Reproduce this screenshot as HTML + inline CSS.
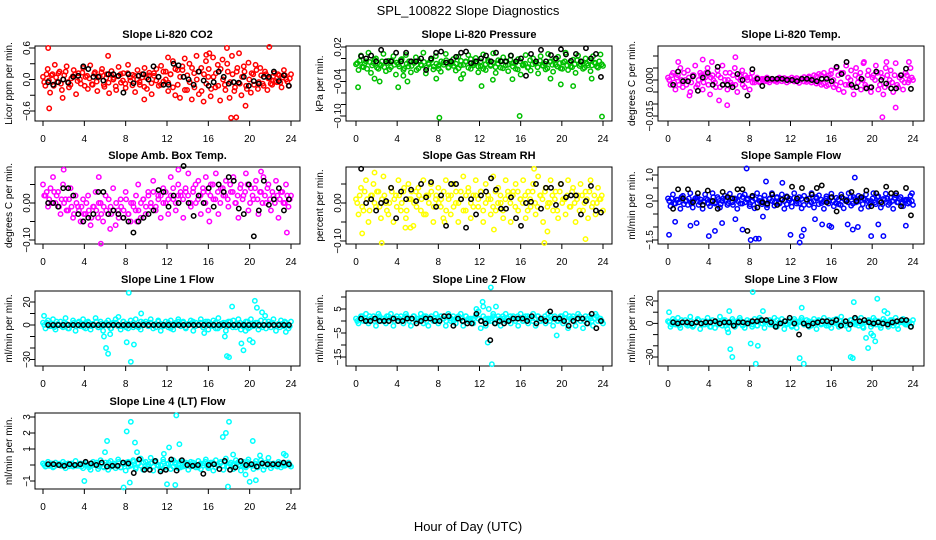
<!DOCTYPE html>
<html><head><meta charset="utf-8"><style>
html,body{margin:0;padding:0;background:#fff;}
svg{display:block;font-family:"Liberation Sans",Arial,sans-serif;}
</style></head><body>
<svg id="chart" width="936" height="540" viewBox="0 0 936 540" xmlns="http://www.w3.org/2000/svg">
<text x="468" y="15" text-anchor="middle" font-size="13">SPL_100822  Slope Diagnostics</text>
<text x="468" y="531" text-anchor="middle" font-size="13">Hour of Day (UTC)</text>
<g id="panels"></g>
</svg>
<script>
const hourTicks = [0,4,8,12,16,20,24];

const co2Main = [0.05,-0.12,0.2,-0.25,0.1,0.28,-0.05,0.15,-0.2,0.08,0.25,-0.15,0.02,0.18,-0.28,0.12,-0.08,0.22,0.05,-0.18,0.27,-0.1,0.14,-0.22,0.06,0.2,-0.14,0.1,-0.26,0.16,0.03,-0.2,0.24,-0.06,0.12,-0.16,0.28,-0.02,0.09,-0.24,0.18,-0.1,0.04,0.22,-0.18,0.13,-0.28,0.07,0.2,-0.12,0.26,-0.04,0.15,-0.22,0.1,0.35,-0.3,0.18,-0.35,0.25,0.4,-0.2,0.3,-0.38,0.12,0.45,-0.28,0.22,-0.42,0.35,0.05,-0.32,0.42,-0.15,0.28,-0.4,0.38,-0.1,0.3,-0.35,0.45,-0.22,0.15,0.5,-0.3,0.25,-0.12,0.32,-0.25,0.1,0.28,-0.18,0.22,-0.08,0.15,-0.2,0.02,-0.1,0.12,-0.05,0.08,-0.15,0.18,0.0,-0.12,0.1];
const co2MainB = [-0.05,0.1,-0.02,0.08,-0.12,0.04,0.12,-0.08,0.0,0.15,-0.05,-0.1,0.06,0.1,-0.03,0.0,0.13,-0.12,0.07,0.02,-0.09,0.11,-0.04,0.05,0.14,-0.1,0.03,-0.06,0.09,0.0,-0.13,0.06,0.1,-0.02,-0.08,0.12,0.04,-0.11,0.07,0.0,-0.05,0.1,-0.14,0.03,0.08,-0.07,0.12,-0.02,0.05,-0.1,0.15,0.0,-0.06,0.1,-0.15,0.2,-0.1,0.05,0.18,-0.2,0.08,-0.05,0.22,-0.15,0.0,0.15,-0.22,0.1,-0.08,0.2,-0.18,0.05,0.12,-0.12,0.2,0.0,-0.2,0.15,-0.05,0.1,-0.15,0.22,-0.08,0.05,0.15,-0.18,0.0,0.12,-0.1,0.18,-0.05,0.08,-0.12,0.1,0.02,-0.08,0.06,-0.03,0.1,-0.06,0.04,0.08,-0.04,0.02];
const co2Black = [-0.05,-0.1,-0.05,0.0,-0.06,0.05,0.07,0.25,0.2,0.05,0.05,-0.02,0.1,0.1,0.07,-0.25,0.1,-0.07,0.07,0.1,0.0,0.25,0.05,-0.1,-0.1,0.3,0.27,0.05,0.0,-0.1,0.15,-0.02,-0.12,-0.05,0.15,0.05,-0.08,-0.05,-0.06,0.05,-0.12,-0.03,-0.08,0.05,0.05,0.15,-0.03,0.08,-0.12];
const co2OutX = [0.5,0.6,6.3,12.1,15.8,16.1,17.8,18.2,18.7,19.6,21.9,9.8,1.9];
const co2OutY = [0.6,-0.55,0.45,0.42,0.47,0.5,0.6,-0.73,-0.72,-0.5,0.62,-0.38,-0.35];

const presMain = [-0.01,-0.02,0.005,-0.015,-0.005,0.01,-0.025,-0.008,0.0,-0.018,-0.012,0.008,-0.022,-0.004,-0.015,0.004,-0.028,-0.01,-0.002,-0.02,0.006,-0.014,-0.024,-0.006,0.002,-0.017,-0.011,0.01,-0.026,-0.008,-0.003,-0.019,0.004,-0.013,-0.023,-0.007,0.008,-0.016,-0.01,-0.001,-0.021,0.003,-0.012,-0.027,-0.005,0.006,-0.018,-0.009,0.001,-0.024,-0.014,0.007,-0.02,-0.006,-0.011,0.009,-0.025,-0.003,-0.016,0.002,-0.012,-0.022,0.005,-0.008,-0.018,-0.001,-0.028,-0.01,0.006,-0.015,-0.021,0.0,-0.009,-0.026,0.004,-0.013,-0.019,0.008,-0.005,-0.023,-0.011,0.003,-0.017,-0.007,0.01,-0.02,-0.014,-0.002,-0.025,0.005,-0.01,-0.018,0.0,-0.012,-0.022,0.004,-0.008,-0.016,0.007,-0.013];
const presMainB = [-0.008,-0.004,-0.014,-0.009,-0.018,-0.006,-0.012,-0.002,-0.016,-0.01,-0.005,-0.015,-0.008,-0.019,-0.003,-0.011,-0.007,-0.014,-0.001,-0.017,-0.009,-0.005,-0.013,-0.008,-0.02,-0.004,-0.012,-0.006,-0.016,-0.01,-0.002,-0.014,-0.009,-0.018,-0.005,-0.011,-0.003,-0.015,-0.007,-0.013,-0.009,-0.017,-0.004,-0.011,-0.006,-0.016,-0.001,-0.012,-0.008,-0.014,-0.005,-0.018,-0.01,-0.003,-0.013,-0.007,-0.015,-0.009,-0.004,-0.017,-0.006,-0.011,-0.002,-0.014,-0.008,-0.019,-0.005,-0.012,-0.009,-0.016,-0.003,-0.01,-0.007,-0.015,-0.004,-0.012,-0.009,-0.017,-0.006,-0.011,-0.002,-0.014,-0.008,-0.018,-0.005,-0.012,-0.007,-0.015,-0.01,-0.003,-0.013,-0.006,-0.016,-0.009,-0.004,-0.012,-0.007,-0.014,-0.005,-0.01];
const presBlack = [0.004,0.0,0.005,-0.005,0.015,-0.005,-0.005,0.01,-0.005,0.01,-0.005,-0.005,0.0,-0.02,0.0,0.01,0.012,-0.007,-0.005,0.003,0.01,0.012,-0.008,-0.005,0.0,0.005,-0.005,0.01,-0.005,-0.005,0.005,-0.005,0.0,-0.03,0.008,-0.005,0.015,-0.005,0.006,0.0,0.016,0.007,-0.004,0.008,-0.005,0.018,0.0,0.008,-0.032];
const presOutX = [0.2,4.1,8.1,12.2,15.9,19.9,21.1,23.9,1.8,2.3,5.0,4.6,7.8,10.2,13.3,15.2,18.9,22.9];
const presOutY = [-0.05,-0.05,-0.103,-0.048,-0.1,-0.045,-0.048,-0.101,-0.035,-0.04,-0.04,-0.03,-0.035,-0.035,-0.037,-0.036,-0.035,-0.035];

const tempMain = [0.001,-0.002,0.003,-0.004,0.002,0.005,-0.003,0.0,0.004,-0.005,0.002,0.006,-0.002,0.003,-0.004,0.001,0.005,-0.006,0.002,-0.001,0.004,-0.003,0.006,0.0,-0.004,0.003,-0.002,0.005,-0.005,0.002,0.004,-0.003,0.001,-0.004,0.003,-0.001,0.001,-0.001,0.0005,-0.0005,0.001,-0.001,0.0005,0.0,-0.0008,0.001,-0.0005,0.0008,-0.001,0.0004,0.001,-0.0006,0.0008,-0.0012,0.0006,0.0012,-0.0008,0.0015,-0.001,0.002,-0.0015,0.0025,-0.002,0.003,-0.0025,0.002,0.004,-0.003,0.005,-0.004,0.003,-0.005,0.006,-0.002,0.004,-0.006,0.005,0.001,-0.004,0.007,-0.003,0.004,-0.005,0.002,0.006,-0.004,0.003,-0.006,0.005,-0.002,0.004,-0.005,0.007,-0.003,0.002,-0.004,0.003,-0.001,0.005,0.0];
const tempMainB = [0.0,0.002,-0.001,0.001,-0.002,0.0,0.003,-0.002,0.001,-0.001,0.002,-0.003,0.0,0.002,-0.001,0.003,-0.002,0.001,0.0,-0.003,0.002,0.001,-0.002,0.003,0.0,-0.001,0.002,-0.002,0.001,0.0,-0.002,0.002,0.0,0.001,-0.001,0.0,0.0005,-0.0005,0.0,0.0005,-0.0005,0.0,0.0004,-0.0004,0.0,0.0005,-0.0005,0.0,0.0004,-0.0004,0.0,0.0005,-0.0005,0.0,0.0006,-0.0006,0.0,0.001,-0.001,0.0,0.0015,-0.001,0.002,-0.0015,0.001,-0.002,0.0025,0.0,-0.002,0.002,-0.001,0.003,-0.002,0.001,0.0,-0.003,0.002,-0.001,0.003,0.0,-0.002,0.002,-0.003,0.001,0.0,0.003,-0.002,0.001,-0.003,0.002,0.0,-0.001,0.002,-0.002,0.001,0.0,-0.001,0.002,0.0,0.001];
const tempBlack = [-0.002,0.0035,-0.0005,-0.0005,0.0015,-0.0045,0.001,0.003,-0.002,0.0055,-0.002,-0.002,-0.003,0.0025,0.0,-0.0065,0.0045,0.0005,-0.0025,0.0005,0.0005,0.0005,0.0005,0.0,0.0,-0.0005,0.0005,0.0005,0.0,-0.0005,0.0005,0.0005,-0.0005,0.0055,0.0025,0.0075,-0.002,-0.003,0.0005,-0.0035,-0.003,0.0035,0.0,-0.0015,-0.0035,-0.0035,0.002,0.0047,-0.0037];
const tempOutX = [3.4,1.0,5.0,6.6,5.8,2.1,19.2,21.0,21.4,22.3,23.6,4.3];
const tempOutY = [0.0085,0.0075,-0.0085,0.0095,-0.0105,-0.0065,0.0075,-0.0155,0.0075,-0.0115,0.0075,0.0075];

const ambMain = [0.05,0.02,-0.01,0.04,0.07,0.0,0.03,-0.03,0.05,0.01,-0.02,0.04,-0.04,0.02,-0.01,-0.05,0.01,-0.03,0.02,-0.06,-0.01,0.03,-0.04,0.0,-0.05,0.02,-0.03,-0.01,0.04,-0.06,-0.02,0.01,-0.04,0.03,-0.03,-0.05,0.0,-0.02,0.05,-0.04,0.01,-0.03,0.03,-0.01,0.06,-0.02,0.02,-0.04,0.04,0.0,-0.03,0.07,0.01,-0.02,0.05,0.02,-0.04,0.03,0.08,-0.01,0.04,0.0,0.06,-0.03,0.03,0.07,-0.02,0.05,0.01,0.08,-0.03,0.04,0.02,0.06,-0.01,0.03,0.07,0.0,-0.04,0.05,0.02,0.08,-0.02,0.04,0.01,0.06,-0.03,0.03,0.07,0.0,0.05,-0.02,0.02,0.06,-0.04,0.03,0.0,0.05,-0.01,0.02];
const ambMainB = [0.02,0.03,0.01,0.0,0.03,0.02,-0.01,0.01,0.0,-0.02,0.01,-0.01,-0.03,0.0,-0.02,-0.01,-0.03,0.0,-0.02,-0.04,-0.01,-0.02,0.0,-0.03,-0.01,-0.02,0.01,-0.03,-0.02,0.0,-0.04,-0.01,-0.02,0.01,-0.03,0.0,-0.01,0.02,-0.02,0.0,0.01,-0.01,0.02,0.0,0.03,-0.01,0.01,0.02,0.0,0.03,0.01,0.02,0.04,0.0,0.02,0.03,0.01,0.04,0.02,0.0,0.03,0.05,0.01,0.02,0.04,0.0,0.03,0.02,0.05,0.01,0.03,0.0,0.04,0.02,0.01,0.05,0.03,0.0,0.02,0.04,0.01,0.03,0.05,0.0,0.02,0.04,0.01,0.03,0.0,0.02,0.04,0.01,0.03,0.0,0.02,0.01,0.03,0.0,0.02,0.01];
const ambBlack = [0.0,0.0,-0.01,0.04,0.04,0.02,-0.03,-0.05,-0.04,-0.03,0.03,0.03,-0.03,-0.02,-0.03,-0.04,-0.05,-0.08,-0.05,-0.04,-0.03,-0.02,0.035,0.03,-0.01,0.02,0.0,0.1,0.0,-0.035,0.02,0.0,0.04,-0.01,0.05,0.03,0.07,0.06,-0.015,-0.03,0.05,-0.09,-0.02,0.06,-0.005,0.01,0.04,-0.02,0.01];
const ambOutX = [2.0,5.6,6.5,13.1,23.6,5.4,3.9,9.1,16.1,21.1];
const ambOutY = [0.09,-0.11,-0.07,0.09,-0.08,0.07,-0.05,-0.05,-0.05,0.085];

const rhMain = [0.01,-0.03,0.04,-0.02,0.06,-0.05,0.02,0.05,-0.01,0.03,-0.04,0.07,0.0,-0.03,0.04,-0.05,0.02,0.06,-0.02,0.03,-0.04,0.05,0.01,-0.06,0.03,0.04,-0.02,0.06,-0.03,0.02,0.05,-0.05,0.01,0.04,-0.01,-0.04,0.06,0.02,-0.03,0.05,0.0,-0.05,0.03,0.07,-0.02,0.04,-0.04,0.02,0.06,-0.01,0.03,-0.05,0.05,0.01,-0.03,0.07,-0.02,0.04,0.0,-0.04,0.06,0.02,-0.05,0.03,0.05,-0.02,0.01,0.06,-0.04,0.03,-0.01,0.05,-0.03,0.07,0.02,-0.05,0.04,0.0,0.06,-0.02,0.03,-0.04,0.05,0.01,-0.03,0.06,-0.01,0.04,-0.05,0.02,0.05,-0.02,0.03,-0.04,0.06,0.0,-0.03,0.04,0.01,-0.02];
const rhMainB = [0.0,0.02,-0.01,0.03,0.01,-0.02,0.02,0.0,0.03,-0.01,0.01,0.02,-0.02,0.0,0.03,0.01,-0.01,0.02,0.0,0.04,-0.02,0.01,0.03,0.0,-0.01,0.02,0.01,-0.03,0.02,0.0,0.03,-0.01,0.02,0.0,0.01,0.03,-0.02,0.01,0.02,-0.01,0.03,0.0,0.01,-0.02,0.02,0.03,0.0,-0.01,0.02,0.01,0.03,-0.02,0.0,0.02,0.01,-0.01,0.03,0.0,0.02,-0.02,0.01,0.03,0.0,0.02,-0.01,0.03,0.01,0.0,0.02,-0.02,0.01,0.03,0.0,-0.01,0.02,0.01,0.03,-0.01,0.0,0.02,0.01,-0.02,0.03,0.0,0.01,0.02,-0.01,0.03,0.0,0.01,-0.02,0.02,0.0,0.01,0.03,-0.01,0.02,0.0,0.01,0.02];
const rhBlack = [0.09,0.0,0.01,-0.02,0.0,0.005,0.04,-0.04,0.03,0.01,0.035,0.005,0.05,0.015,0.055,-0.01,0.02,-0.06,0.05,0.05,0.01,-0.065,0.01,-0.03,0.02,0.03,0.065,0.035,-0.015,-0.015,0.015,-0.04,-0.06,0.0,0.003,0.05,-0.015,0.04,0.04,-0.005,0.05,0.015,0.02,0.02,-0.03,0.005,0.045,-0.02,-0.025];
const rhOutX = [0.6,2.5,18.3,22.3,1.8,17.3,8.6,13.4,18.6,4.8,5.3];
const rhOutY = [-0.08,-0.105,-0.105,-0.095,0.08,0.09,-0.05,-0.07,-0.075,-0.065,-0.065];

const sampMain = [0.1,-0.2,0.25,-0.1,0.05,-0.3,0.2,0.0,-0.15,0.3,-0.25,0.1,0.15,-0.05,-0.3,0.25,0.05,-0.2,0.3,-0.1,0.15,-0.25,0.0,0.2,-0.15,0.28,-0.05,0.1,-0.3,0.2,-0.1,0.25,0.05,-0.2,0.15,-0.28,0.3,0.0,-0.12,0.22,-0.25,0.08,0.3,-0.18,0.12,-0.05,0.25,-0.3,0.18,0.02,-0.22,0.3,-0.1,0.15,-0.28,0.2,0.05,-0.15,0.3,-0.25,0.1,0.22,-0.08,-0.3,0.18,0.0,0.28,-0.2,0.12,-0.12,0.25,-0.28,0.05,0.3,-0.18,0.15,-0.05,0.2,-0.3,0.1,0.25,-0.22,0.0,0.3,-0.12,0.18,-0.25,0.08,0.28,-0.15,0.12,-0.3,0.22,-0.05,0.15,-0.2,0.05,-0.1,0.2,-0.15];
const sampMainB = [0.0,0.1,-0.1,0.05,-0.05,0.15,-0.12,0.02,0.1,-0.08,0.0,0.12,-0.15,0.05,-0.02,0.1,-0.1,0.0,0.15,-0.05,0.08,-0.12,0.1,0.0,-0.08,0.12,-0.15,0.05,0.0,-0.1,0.15,-0.05,0.1,-0.12,0.0,0.08,-0.08,0.12,-0.02,0.05,-0.15,0.1,0.0,-0.05,0.15,-0.1,0.05,0.0,-0.12,0.1,-0.05,0.12,0.0,-0.1,0.08,-0.15,0.05,0.1,-0.05,0.0,0.15,-0.12,0.05,-0.02,0.1,-0.1,0.12,0.0,-0.08,0.05,-0.15,0.1,0.0,-0.05,0.15,-0.1,0.08,-0.02,0.12,-0.12,0.05,0.0,-0.1,0.1,-0.05,0.15,0.0,-0.12,0.05,0.1,-0.08,0.0,0.12,-0.05,0.08,-0.1,0.02,0.05,-0.05,0.0];
const sampBlack = [-0.3,0.45,0.1,0.45,-0.05,0.3,-0.15,0.4,0.0,-0.3,0.35,0.15,0.1,0.45,0.45,-1.15,0.2,-0.25,-0.05,-0.1,0.25,-0.15,0.05,0.15,0.55,0.1,0.5,0.05,0.25,0.5,0.6,-0.05,0.15,-0.4,0.15,0.0,0.35,0.0,0.15,0.4,-0.2,0.3,-0.05,0.55,0.3,0.3,-0.2,0.5,-0.55];
const sampOutX = [0.1,0.7,2.2,2.8,4.0,4.6,5.3,7.7,8.1,8.6,8.9,9.6,12.0,12.9,13.1,13.3,11.2,15.1,15.8,17.6,18.3,18.1,19.9,20.6,21.1,23.3,23.9,6.6,7.3,9.3,14.4,18.6,16.0];
const sampOutY = [-1.3,-0.8,-0.95,-0.85,-1.35,-1.15,-0.85,1.25,-1.5,-1.45,-1.45,0.75,-1.3,-1.6,-1.35,-1.1,0.7,-0.9,-0.95,-0.9,0.9,-1.1,-1.35,-0.9,-1.35,-0.95,0.3,-0.7,-1.1,-0.6,-0.7,-1.0,-1.0];

const l1Main = [2,-3,4,-1,5,-4,1,3,-2,6,-3,0,4,-5,2,-1,5,-3,3,-4,1,6,-2,3,-5,0,4,-3,2,5,-1,-4,3,1,-3,4,-2,5,0,-4,2,3,-1,5,-3,1,4,-5,0,3,-2,4,-4,2,5,-1,3,-3,1,4,-5,2,0,5,-2,3,-4,1,4,-3,6,-1,2,-5,3,0,4,-2,5,-4,1,3,-3,5,-1,2,-4,4,0,-3,3,-2,5,-5,1,4,-1,2,-3,3];
const l1MainB = [0,2,-1,1,-2,3,0,-1,2,1,-3,0,2,-1,3,0,-2,1,2,-1,0,3,-2,1,0,2,-1,-3,1,2,0,-1,3,-2,1,0,2,-1,-2,3,0,1,-1,2,0,-2,3,1,-1,0,2,-3,1,0,3,-1,2,-2,0,1,3,-1,0,2,-2,1,3,0,-1,2,-3,1,0,2,-1,3,-2,0,1,2,-1,0,3,-2,1,0,2,-1,-2,3,0,1,2,-1,0,-2,1,3,0,-1];
const l1Black = [0,0,0,0,0,0,0,0,0,0,0,0,0,0,0,0,0,0,0,0,0,0,0,0,0,0,0,0,0,0,0,0,0,0,0,0,0,0,0,0,0,0,0,0,0,0,0,0,0];
const l1OutX = [0.1,5.9,6.1,6.3,6.5,8.1,8.3,8.5,8.8,9.5,7.3,17.6,17.8,18.0,18.3,19.2,19.4,19.6,20.0,20.3,20.5,20.7,21.2,21.5,15.6,23.5];
const l1OutY = [8,-10,-20,-25,-8,-15,28,-32,-17,10,7,-10,-27,-28,16,-16,-22,-5,-13,-15,21,15,11,8,-7,-6];

const l2Main = [1,-1,2,0,3,-1,1,2,-2,3,0,1,-1,2,3,-2,1,0,2,-1,3,1,-2,2,0,1,3,-1,2,-2,1,0,3,-1,2,1,-2,3,0,2,-1,1,3,-2,2,0,1,-1,2,4,-3,6,-2,1,0,3,-1,2,-2,1,3,0,-1,2,1,-2,3,0,2,-1,1,3,-2,2,0,1,-1,3,2,-2,1,0,2,-1,3,-3,1,2,-2,3,0,-3,2,-1,1,-2,3,0,1,-1];
const l2MainB = [0,1,2,1,0,2,1,0,1,2,1,0,2,1,1,0,2,1,0,1,2,0,1,2,1,0,1,2,0,1,2,1,0,1,2,1,0,2,1,0,1,2,1,0,2,1,0,1,2,1,0,2,1,0,1,2,1,0,1,2,0,1,2,1,0,2,1,0,1,2,1,0,1,2,0,1,2,1,0,1,2,0,1,2,1,0,2,1,0,1,2,1,0,1,2,0,1,2,1,0];
const l2Black = [1,0,0,1,0,0,0,1,0,0,1,1,-1,0,1,1,0,0,2,2,-2,1,0,-1,-1,3,0,-1,-8,-1,0,-1,0,1,1,1,0,2,-1,1,0,4,1,1,0,-2,0,1,1,-1,3,-3,0];
const l2OutX = [12.3,12.9,13.1,13.6,11.9,12.8,13.2,19.5,11.7];
const l2OutY = [8,5,14,6,4,-9,-18,-6,5];

const l3Main = [2,-3,4,-1,5,-4,1,3,-2,6,-3,0,4,-5,2,-1,5,-3,3,-4,1,6,-2,3,-5,0,4,-3,2,5,-1,-4,3,1,-3,4,-2,5,0,-4,2,3,-1,5,-3,1,4,-5,0,3,-2,4,-4,2,5,-1,3,-3,1,4,-5,2,0,5,-2,3,-4,1,4,-3,6,-1,2,-5,3,0,4,-2,5,-4,1,3,-3,5,-1,2,-4,4,0,-3,3,-2,5,-5,1,4,-1,2,-3,3];
const l3MainB = [1,-1,2,0,-2,3,1,-1,0,2,-2,1,3,0,-1,2,1,-3,0,2,-1,1,3,-2,0,1,2,-1,0,3,-2,1,0,2,-1,1,-2,3,0,1,2,-1,0,-2,3,1,0,2,-1,1,-3,2,0,1,3,-1,0,2,-2,1,0,3,-1,2,0,-2,1,3,0,-1,2,1,-2,0,3,1,-1,2,0,-3,1,2,0,-1,3,1,-2,0,2,1,-1,3,0,-2,1,2,0,-1,1,0];
const l3Black = [1,0,1,1,0,1,0,1,1,2,0,1,1,-2,1,1,0,2,2,3,3,1,-3,0,2,5,0,-10,0,-2,0,1,2,2,1,3,-2,2,-1,5,2,3,1,0,1,0,-1,1,2,3,3,-3];
const l3OutX = [0.1,5.9,6.1,6.3,8.1,8.3,8.6,8.8,9.3,12.9,13.1,13.3,17.9,18.1,18.2,19.4,19.6,19.9,20.3,20.5,21.2,21.5,20.1,6.0];
const l3OutY = [10,-8,-23,-30,-18,28,-36,-20,11,-31,14,-36,-30,-31,19,-13,-22,-9,-16,22,11,9,-11,11];

const l4Main = [0.1,-0.1,0.2,0.0,-0.15,0.15,0.05,-0.05,0.2,-0.2,0.1,0.0,-0.1,0.25,-0.05,0.1,-0.2,0.15,0.0,-0.3,0.2,0.05,-0.25,0.3,-0.1,0.15,-0.3,0.25,0.0,-0.2,0.35,-0.15,0.1,-0.35,0.2,-0.05,0.3,-0.25,0.1,0.4,-0.3,0.2,-0.1,0.45,-0.35,0.25,0.0,-0.3,0.35,-0.15,0.1,-0.25,0.3,0.05,-0.2,0.25,-0.1,0.15,-0.3,0.2,0.0,-0.15,0.25,-0.25,0.1,0.35,-0.2,0.15,-0.35,0.3,-0.05,0.2,-0.3,0.4,-0.1,0.15,-0.25,0.3,0.0,-0.35,0.2,-0.15,0.35,0.05,-0.25,0.25,-0.1,0.3,-0.3,0.15,0.45,-0.2,0.1,-0.05,0.2,-0.15,0.1,0.0,0.15,-0.1];
const l4MainB = [0.0,0.05,-0.05,0.1,-0.1,0.0,0.08,-0.05,0.05,0.0,-0.08,0.1,0.0,-0.05,0.05,-0.1,0.1,0.0,-0.15,0.1,0.0,0.15,-0.1,0.05,-0.15,0.0,0.15,-0.1,0.1,-0.05,0.2,-0.15,0.05,0.15,-0.1,0.0,0.2,-0.15,0.1,-0.05,0.15,-0.2,0.05,0.1,-0.1,0.15,-0.05,0.0,0.2,-0.15,0.05,0.1,-0.1,0.15,0.0,-0.15,0.2,-0.05,0.1,-0.1,0.15,0.0,-0.15,0.1,-0.05,0.2,-0.1,0.05,0.15,-0.15,0.0,0.1,-0.05,0.2,-0.1,0.05,0.0,-0.15,0.15,-0.05,0.1,-0.1,0.2,0.0,-0.05,0.1,-0.15,0.05,0.15,-0.1,0.0,0.1,-0.05,0.05,-0.1,0.1,0.0,-0.05,0.05,0.0];
const l4Black = [0.05,0.05,0.0,-0.05,0.05,0.0,0.05,0.2,0.1,0.0,0.15,-0.1,-0.05,-0.05,0.15,0.1,-0.5,0.35,-0.3,-0.3,0.25,-0.4,-0.3,0.35,-0.35,0.3,0.0,-0.05,0.0,-0.55,0.0,0.05,-0.25,0.25,-0.3,-0.15,0.25,0.0,0.05,-0.1,0.1,0.05,0.05,0.05,0.15,0.05];
const l4OutX = [4.0,6.0,6.2,7.8,8.1,8.4,8.5,8.9,9.1,12.0,12.2,12.8,12.9,13.2,11.7,17.4,17.7,18.0,17.9,18.4,20.0,20.3,20.6,21.0,19.6,23.3,23.5];
const l4OutY = [-1.0,0.8,1.5,-1.4,2.1,-1.1,2.7,1.4,0.8,-1.2,1.1,-1.25,3.1,1.3,0.7,1.75,2.0,2.7,-1.35,0.65,-1.05,1.5,-0.95,0.6,-0.6,0.7,0.6];

const panels = [
 {name:'co2',title:'Slope Li-820 CO2',ylab:'Licor ppm per min.',bx:[35,300],by:[46,121],hx:[43,291],ya:[0.6,48],yb:[-0.6,111],ticks:[0.6,0.3,0,-0.3,-0.6],labels:['0.6','','0.0','','-0.6'],color:'#ff0000',main:co2Main,mainB:co2MainB,black:co2Black,ox:co2OutX,oy:co2OutY},
 {name:'pressure',title:'Slope Li-820 Pressure',ylab:'kPa per min.',bx:[346,612],by:[46,121],hx:[356,603],ya:[0.02,47],yb:[-0.10,116],ticks:[0.02,0,-0.02,-0.04,-0.06,-0.08,-0.10],labels:['0.02','','','-0.04','','','-0.10'],color:'#00c000',main:presMain,mainB:presMainB,black:presBlack,ox:presOutX,oy:presOutY},
 {name:'temp',title:'Slope Li-820 Temp.',ylab:'degrees C per min.',bx:[658,924],by:[46,121],hx:[668,913],ya:[0,80],yb:[-0.015,116],ticks:[0.01,0.005,0,-0.005,-0.01,-0.015],labels:['','','0.000','','','-0.015'],color:'#ff00ff',main:tempMain,mainB:tempMainB,black:tempBlack,ox:tempOutX,oy:tempOutY},
 {name:'amb-box-temp',title:'Slope Amb. Box Temp.',ylab:'degrees C per min.',bx:[35,300],by:[167,244],hx:[43,291],ya:[0,203],yb:[-0.10,240],ticks:[0.05,0,-0.05,-0.10],labels:['','0.00','','-0.10'],color:'#ff00ff',main:ambMain,mainB:ambMainB,black:ambBlack,ox:ambOutX,oy:ambOutY},
 {name:'gas-rh',title:'Slope Gas Stream RH',ylab:'percent per min.',bx:[346,612],by:[167,244],hx:[356,603],ya:[0,203],yb:[-0.10,241],ticks:[0.05,0,-0.05,-0.10],labels:['','0.00','','-0.10'],color:'#ffff00',main:rhMain,mainB:rhMainB,black:rhBlack,ox:rhOutX,oy:rhOutY},
 {name:'sample-flow',title:'Slope Sample Flow',ylab:'ml/min per min.',bx:[658,924],by:[167,244],hx:[668,913],ya:[1.0,175],yb:[-1.5,240],ticks:[1.0,0.5,0,-0.5,-1.0,-1.5],labels:['1.0','','0.0','','','-1.5'],color:'#0000ff',main:sampMain,mainB:sampMainB,black:sampBlack,ox:sampOutX,oy:sampOutY},
 {name:'line1-flow',title:'Slope Line 1 Flow',ylab:'ml/min per min.',bx:[35,300],by:[291,366],hx:[43,291],ya:[20,302],yb:[-30,359.5],ticks:[20,10,0,-10,-20,-30],labels:['20','','0','','','-30'],color:'#00ffff',main:l1Main,mainB:l1MainB,black:l1Black,ox:l1OutX,oy:l1OutY},
 {name:'line2-flow',title:'Slope Line 2 Flow',ylab:'ml/min per min.',bx:[346,612],by:[291,366],hx:[356,603],ya:[5,309],yb:[-15,357],ticks:[10,5,0,-5,-10,-15],labels:['','5','','-5','','-15'],color:'#00ffff',main:l2Main,mainB:l2MainB,black:l2Black,ox:l2OutX,oy:l2OutY},
 {name:'line3-flow',title:'Slope Line 3 Flow',ylab:'ml/min per min.',bx:[658,924],by:[291,366],hx:[668,913],ya:[20,301],yb:[-30,357],ticks:[20,10,0,-10,-20,-30],labels:['20','','0','','','-30'],color:'#00ffff',main:l3Main,mainB:l3MainB,black:l3Black,ox:l3OutX,oy:l3OutY},
 {name:'line4-flow',title:'Slope Line 4 (LT) Flow',ylab:'ml/min per min.',bx:[35,300],by:[413,489],hx:[43,291],ya:[3,417],yb:[-1,481],ticks:[3,2,1,0,-1],labels:['3','2','1','','-1'],color:'#00ffff',main:l4Main,mainB:l4MainB,black:l4Black,ox:l4OutX,oy:l4OutY}
];

const NS='http://www.w3.org/2000/svg';
const root=document.getElementById('panels');
function mk(tag,attrs,parent){const e=document.createElementNS(NS,tag);for(const k in attrs)e.setAttribute(k,attrs[k]);parent.appendChild(e);return e;}
const R0=2.2;

panels.forEach(p=>{
  const g=mk('g',{},root);
  
  
  const xs=h=>p.hx[0]+(p.hx[1]-p.hx[0])*h/24;
  const ys=v=>p.ya[1]+(v-p.ya[0])*(p.yb[1]-p.ya[1])/(p.yb[0]-p.ya[0]);
  const [L,R]=p.bx,[T,B]=p.by;
  const t=mk('text',{x:(L+R)/2,y:T-8,'text-anchor':'middle','font-size':11,'font-weight':'bold'},g);
  t.textContent=p.title;
  
  
  const yl=mk('text',{transform:`translate(${L-23},${(T+B)/2}) rotate(-90)`,'text-anchor':'middle','font-size':10},g);
  yl.textContent=p.ylab;
  
  
  const xa=mk('g',{},g);
  
  
  mk('line',{x1:xs(0),x2:xs(24),y1:B,y2:B,stroke:'#000'},xa);
  hourTicks.forEach(h=>{
    mk('line',{x1:xs(h),x2:xs(h),y1:B,y2:B+5,stroke:'#000'},xa);
    const l=mk('text',{x:xs(h),y:B+21,'text-anchor':'middle','font-size':10},xa);
    l.textContent=h;
    
    
  });
  const ya=mk('g',{},g);
  
  
  mk('line',{x1:L,x2:L,y1:ys(p.ticks[0]),y2:ys(p.ticks[p.ticks.length-1]),stroke:'#000'},ya);
  p.ticks.forEach((v,i)=>{
    mk('line',{x1:L-5,x2:L,y1:ys(v),y2:ys(v),stroke:'#000'},ya);
    if(p.labels[i]){
      const l=mk('text',{transform:`translate(${L-5},${ys(v)}) rotate(-90)`,'text-anchor':'middle','font-size':10},ya);
      l.textContent=p.labels[i].replace('-','\u2212');
      
      
    }
  });
  mk('rect',{x:L,y:T,width:R-L,height:B-T,fill:'none',stroke:'#000'},g);
  const pts=mk('g',{fill:'none','stroke-width':1.5},g);
  
  
  const n=p.main.length;
  p.main.forEach((v,i)=>{
    const c=mk('circle',{cx:xs(24*i/(n-1)),cy:ys(v),r:R0,stroke:p.color},pts);
    
    
  });
  const nb=p.mainB.length;
  p.mainB.forEach((v,i)=>{
    const c=mk('circle',{cx:xs(24*(i+0.5)/nb),cy:ys(v),r:R0,stroke:p.color},pts);
    
    
  });
  p.ox.forEach((h,i)=>{
    const c=mk('circle',{cx:xs(h),cy:ys(p.oy[i]),r:R0,stroke:p.color},pts);
    
    
  });
  const m=p.black.length;
  p.black.forEach((v,i)=>{
    const c=mk('circle',{cx:xs(0.5+23.3*i/(m-1)),cy:ys(v),r:R0,stroke:'#000'},pts);
    
    
  });
});
</script>
</body></html>
